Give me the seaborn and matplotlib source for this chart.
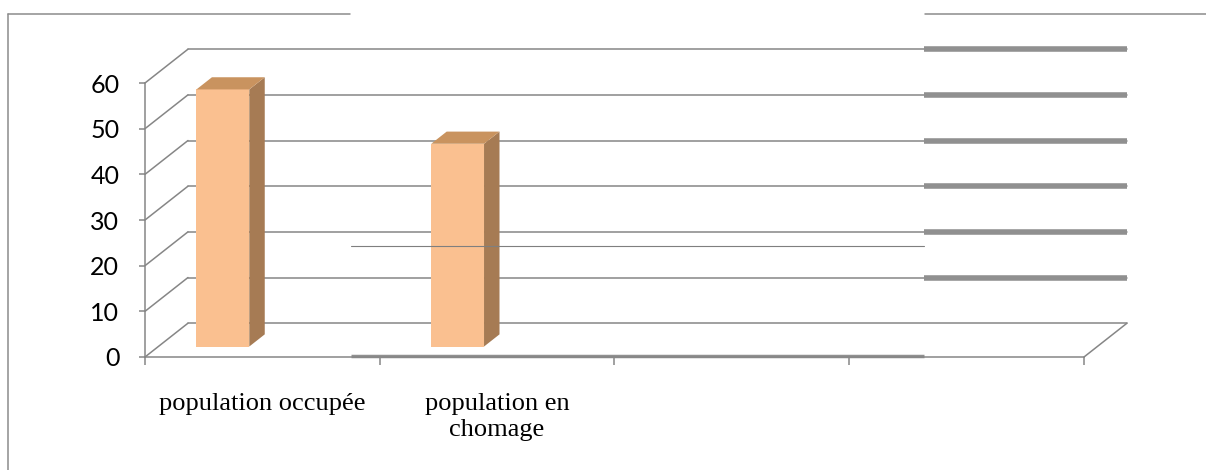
import numpy as np
import pandas as pd
import matplotlib
matplotlib.use("Agg")
import matplotlib.pyplot as plt
import seaborn as sns
from matplotlib.patches import Polygon
from matplotlib.lines import Line2D
from matplotlib.ticker import FixedLocator, FixedFormatter, NullFormatter

# chart data
categories = ["population occupée", "population en chomage"]
values = [56.3, 44.4]
series = ["Série1", "Série2", "Série3"]
empty_values = [0, 0]   # Série2 / Série3 are empty in the original
slot_labels = ["population occupée", "population en\nchomage", "", ""]
y_ticks = [0, 10, 20, 30, 40, 50, 60]

# colours
front_col = "#FAC090"
side_col = "#A67B54"
top_col = "#C9935F"
grid_col = "#868686"

# fake 3d depth (in data units) and where the bars sit in that depth
DX, DY = 0.183, 7.4
f_front, f_back = 0.31, 0.67

sns.set_theme(style="white")
plt.rcParams["font.family"] = ["Lato", "DejaVu Sans"]

fig = plt.figure(figsize=(12.06, 4.70), dpi=100)
ax = fig.add_axes([145 / 1206, 113 / 470, 939 / 1206, 274 / 470])

df = pd.concat([
	pd.DataFrame({"categorie": categories, "valeur": values, "serie": series[0]}),
	pd.DataFrame({"categorie": categories, "valeur": empty_values, "serie": series[1]}),
	pd.DataFrame({"categorie": categories, "valeur": empty_values, "serie": series[2]}),
], ignore_index=True)
sns.barplot(data=df, x="categorie", y="valeur", hue="serie", hue_order=series,
	order=categories, width=0.675, saturation=1, palette=[front_col] * 3,
	legend=False, ax=ax, zorder=3, linewidth=0, errorbar=None)

ax.set_xlim(-0.5, 3.5)
ax.set_ylim(0, 60)

# push the bars back into the box and give them a side and a top
dd = f_back - f_front
for p in list(ax.patches):
	h = p.get_height()
	if not np.isfinite(h) or h == 0:
		p.set_visible(False)
		continue
	x0 = p.get_x() + f_front * DX
	w = p.get_width()
	y0 = f_front * DY
	p.set_x(x0)
	p.set_y(y0)
	p.set_clip_on(False)
	side = Polygon([(x0 + w, y0), (x0 + w + dd * DX, y0 + dd * DY),
		(x0 + w + dd * DX, y0 + h + dd * DY), (x0 + w, y0 + h)],
		closed=True, facecolor=side_col, edgecolor="none", zorder=3, clip_on=False)
	top = Polygon([(x0, y0 + h), (x0 + w, y0 + h),
		(x0 + w + dd * DX, y0 + h + dd * DY), (x0 + dd * DX, y0 + h + dd * DY)],
		closed=True, facecolor=top_col, edgecolor="none", zorder=3, clip_on=False)
	ax.add_patch(side)
	ax.add_patch(top)

# back wall gridlines + side wall diagonals
x_left, x_right = -0.5, 3.5
x_split = 2.82
for t in y_ticks:
	ax.plot([x_left, x_left + DX], [t, t + DY], color=grid_col, lw=1.1,
		clip_on=False, zorder=1)
	ax.plot([x_left + DX, x_right + DX], [t + DY, t + DY], color=grid_col,
		lw=1.1, clip_on=False, zorder=1)
	if t > 0:
		# thicker segments on the right (as in the scanned original)
		ax.plot([x_split, x_right + DX], [t + DY, t + DY], color="#909090",
			lw=4, solid_capstyle="butt", clip_on=False, zorder=1)
ax.plot([x_right, x_right + DX], [0, DY], color=grid_col, lw=1.1,
	clip_on=False, zorder=1)
ax.plot([0.377, x_split], [0.3, 0.3], color="#909090", lw=2.5,
	solid_capstyle="butt", clip_on=False, zorder=2)
# stray line across the middle
ax.plot([0.377, x_split], [24.4, 24.4], color="#7f7f7f", lw=0.8,
	clip_on=False, zorder=5)

# axes
for s in ["top", "right"]:
	ax.spines[s].set_visible(False)
for s in ["left", "bottom"]:
	ax.spines[s].set_color(grid_col)
	ax.spines[s].set_linewidth(1.1)

ax.set_yticks(y_ticks)
ax.set_yticklabels([str(t) for t in y_ticks])
ax.tick_params(axis="y", left=True, length=4.5, width=1.1, color=grid_col,
	labelsize=18, pad=14, labelcolor="black")

ax.xaxis.set_major_locator(FixedLocator(np.arange(-0.5, 3.6, 1)))
ax.xaxis.set_major_formatter(NullFormatter())
ax.xaxis.set_minor_locator(FixedLocator(range(len(slot_labels))))
ax.xaxis.set_minor_formatter(FixedFormatter(slot_labels))
ax.tick_params(axis="x", which="major", bottom=True, length=6, width=1.1,
	color=grid_col)
ax.tick_params(axis="x", which="minor", bottom=True, length=0, pad=26)
for lab in ax.get_xticklabels(minor=True):
	lab.set_fontfamily("Liberation Serif")
	lab.set_fontsize(19)
	lab.set_linespacing(1.2)
	lab.set_color("black")

ax.set_xlabel("")
ax.set_ylabel("")

# outer chart frame (top edge is broken in the original)
frame_kw = dict(transform=fig.transFigure, color="#8c8c8c", lw=1.1)
fig.add_artist(Line2D([8 / 1206, 8 / 1206], [0, 1 - 14 / 470], **frame_kw))
fig.add_artist(Line2D([8 / 1206, 350 / 1206], [1 - 14 / 470] * 2, **frame_kw))
fig.add_artist(Line2D([925 / 1206, 1], [1 - 14 / 470] * 2, **frame_kw))

fig.savefig("out.png", dpi=100)
